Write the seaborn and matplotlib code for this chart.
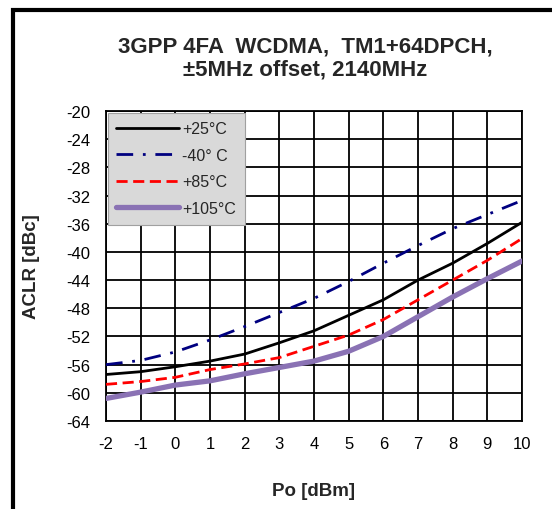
import numpy as np
import pandas as pd
import seaborn as sns
import matplotlib
matplotlib.use("Agg")
from matplotlib import pyplot as plt
from matplotlib.patches import Rectangle

# data
po_dbm = [-2, -1, 0, 1, 2, 3, 4, 5, 6, 7, 8, 9, 10]
aclr_25c = [-57.4, -57.0, -56.3, -55.5, -54.5, -52.9, -51.2, -49.0, -46.8, -44.0, -41.6, -38.8, -35.8]
aclr_m40c = [-56.0, -55.4, -54.2, -52.5, -50.6, -48.6, -46.6, -44.2, -41.6, -39.1, -36.7, -34.7, -32.7]
aclr_85c = [-58.8, -58.4, -57.8, -56.7, -55.9, -55.0, -53.4, -51.8, -49.6, -46.8, -44.0, -41.2, -38.1]
aclr_105c = [-60.8, -59.9, -58.9, -58.3, -57.3, -56.4, -55.5, -54.1, -52.0, -49.2, -46.4, -43.8, -41.3]

series_names = ["+25°C", "-40° C", "+85°C", "+105°C"]
y_ticks = list(range(-20, -65, -4))
x_ticks = po_dbm

df = pd.DataFrame({
    "Po": po_dbm * 4,
    "ACLR": aclr_25c + aclr_m40c + aclr_85c + aclr_105c,
    "Temp": sum([[n] * len(po_dbm) for n in series_names], []),
})

sns.set_style("white")
plt.rcParams["font.family"] = ["Liberation Sans", "DejaVu Sans"]
plt.rcParams["axes.unicode_minus"] = False

fig = plt.figure(figsize=(5.52, 5.10), dpi=100)
ax = fig.add_axes([106 / 552, 1 - 422 / 510, 416 / 552, 310 / 510])

styles = {
    "+25°C": dict(color="black", lw=2.0, ls="-"),
    "-40° C": dict(color="#000080", lw=2.0, ls=(0, (6, 3.5, 1, 3.5))),
    "+85°C": dict(color="#ff0000", lw=2.0, ls=(0, (4, 2))),
    "+105°C": dict(color="#8a72b4", lw=3.8, ls="-"),
}

for name in series_names:
    st = styles[name]
    sns.lineplot(data=df[df["Temp"] == name], x="Po", y="ACLR", ax=ax,
                 color=st["color"], linewidth=st["lw"], linestyle=st["ls"],
                 label=name, zorder=3)

ax.set_xlim(-2, 10)
ax.set_ylim(-64, -20)
ax.set_xticks(x_ticks)
ax.set_yticks(y_ticks)
ax.grid(True, color="black", linewidth=1.3)
ax.set_axisbelow(True)
for sp in ax.spines.values():
    sp.set_color("black")
    sp.set_linewidth(1.3)
ax.tick_params(axis="y", direction="out", length=7, width=1.3, labelsize=12,
               colors="black", pad=4)
ax.tick_params(axis="x", direction="inout", length=12, width=1.3, labelsize=12,
               colors="black", pad=5)

ax.set_xlabel("Po [dBm]", fontsize=13.5, fontweight="bold", labelpad=22)
ax.set_ylabel("ACLR [dBc]", fontsize=13.5, fontweight="bold", labelpad=19)

leg = ax.legend(loc="upper left", bbox_to_anchor=(0.0, 1.0), frameon=True, fancybox=False,
                fontsize=11.5, handlelength=3.9, handletextpad=0.2, labelspacing=0.72,
                borderpad=0.55, borderaxespad=0.1)
leg.get_frame().set_facecolor("#d9d9d9")
leg.get_frame().set_edgecolor("#a0a0a0")
leg.get_frame().set_linewidth(0.8)
leg.get_frame().set_alpha(1)
leg.set_zorder(5)

title_x = 305 / 552
fig.text(title_x, 1 - 47 / 510, "3GPP 4FA  WCDMA,  TM1+64DPCH,", ha="center", va="center",
         fontsize=16, fontweight="bold")
fig.text(title_x, 1 - 70 / 510, "±5MHz offset, 2140MHz", ha="center", va="center",
         fontsize=16, fontweight="bold")

# outer chart frame (clipped at right and bottom like the reference)
fig.patches.append(Rectangle((13 / 552, -0.05), 1.0, 1 - 11 / 510 + 0.05,
                             transform=fig.transFigure, fill=False,
                             edgecolor="black", linewidth=3))

fig.savefig("out.png", dpi=100)
